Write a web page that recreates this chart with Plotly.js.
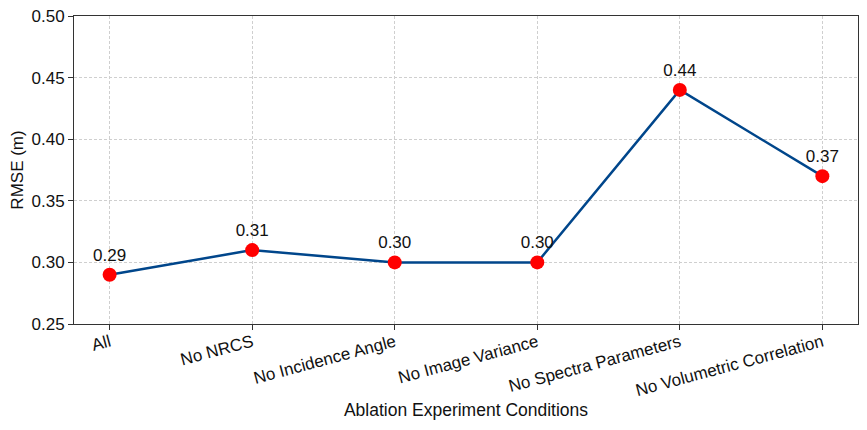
<!DOCTYPE html>
<html>
<head>
<meta charset="utf-8">
<script src="https://cdn.plot.ly/plotly-3.0.1.min.js"></script>
<style>
  html, body { margin: 0; padding: 0; background: #fff; }
  #chart { width: 867px; height: 430px; }
</style>
</head>
<body>
<div id="chart"></div>
<script>
// ablation conditions and their RMSE
const conditions = ['All', 'No NRCS', 'No Incidence Angle', 'No Image Variance',
                    'No Spectra Parameters', 'No Volumetric Correlation'];
const rmse = [0.29, 0.31, 0.30, 0.30, 0.44, 0.37];
const yTicks = [0.25, 0.30, 0.35, 0.40, 0.45, 0.50];

const font = 'Liberation Sans, Arial, sans-serif';
const xIdx = conditions.map((c, i) => i);

const trace = {
  x: xIdx,
  y: rmse,
  mode: 'lines+markers+text',
  text: rmse.map(v => v.toFixed(2)),
  textposition: 'top center',
  textfont: {family: font, size: 17, color: '#111'},
  line: {color: '#00468b', width: 2.5},
  marker: {color: '#ff0000', size: 14},
  cliponaxis: false,
  hoverinfo: 'x+y'
};

const axisCommon = {
  showline: true, mirror: true, linecolor: '#333', linewidth: 1,
  ticks: 'outside', ticklen: 5, tickcolor: '#333',
  showgrid: true, gridcolor: '#cfcfcf', griddash: '3px,2px', gridwidth: 1,
  zeroline: false,
  tickfont: {family: font, size: 17, color: '#111'}
};

const layout = {
  width: 867, height: 430,
  margin: {l: 74, r: 9, t: 16, b: 106},
  paper_bgcolor: '#fff', plot_bgcolor: '#fff',
  showlegend: false,
  xaxis: Object.assign({}, axisCommon, {
    range: [-0.25, 5.25],
    tickmode: 'array', tickvals: xIdx, ticktext: conditions,
    tickangle: -15,
    ticklabelstandoff: -4,
    title: {text: 'Ablation Experiment Conditions', font: {family: font, size: 17.5, color: '#111'}, standoff: 4}
  }),
  yaxis: Object.assign({}, axisCommon, {
    range: [0.25, 0.50],
    tickmode: 'array', tickvals: yTicks, ticktext: yTicks.map(v => v.toFixed(2)),
    title: {text: 'RMSE (m)', font: {family: font, size: 17, color: '#111'}, standoff: 3}
  })
};

Plotly.newPlot('chart', [trace], layout, {displayModeBar: false, staticPlot: true});
</script>
</body>
</html>
